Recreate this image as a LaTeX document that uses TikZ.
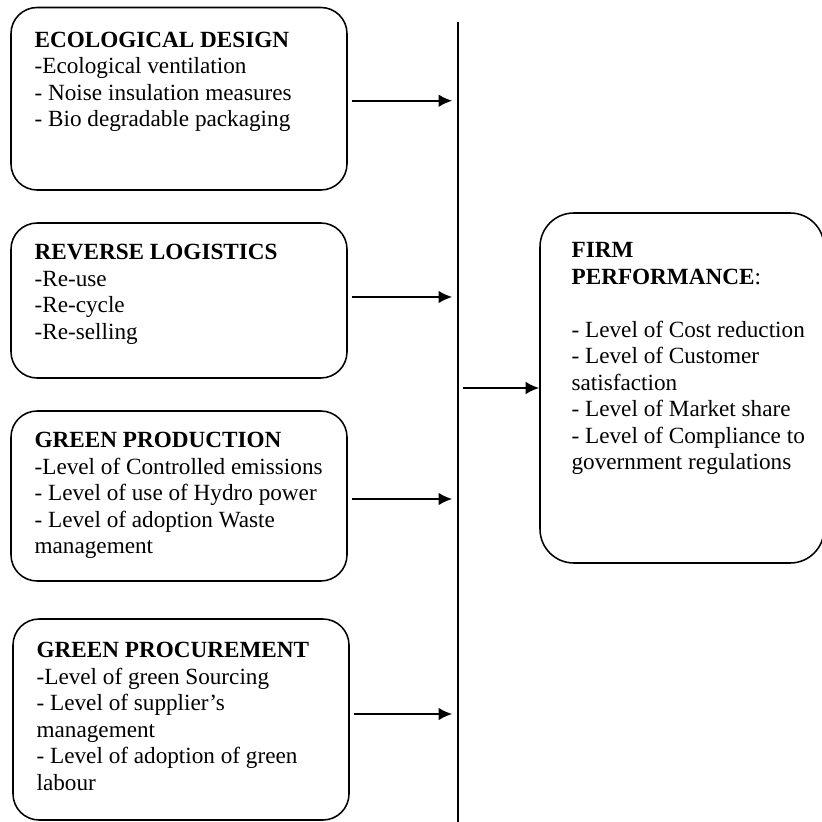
\documentclass[tikz,border=0pt]{standalone}
\usepackage{fontspec}
\setmainfont{Liberation Serif}
\usetikzlibrary{positioning,fit,arrows.meta}

\begin{document}
\begin{tikzpicture}[
  x=0.5173pt, y=-0.5173pt,
  factor/.style={draw, line width=0.8pt, rounded corners=13.5pt, inner sep=0pt},
  outcome/.style={factor, rounded corners=17.5pt},
  txt/.style={anchor=north west, inner sep=0pt, align=left, font=\fontsize{12}{13.7}\selectfont},
  flow/.style={-{Latex[length=7pt,width=6.5pt]}, line width=1pt}
]
\useasboundingbox (0,0) rectangle (822,822);

% the four green practices
\node[factor, fit={(11,7.5) (347,190)}] (eco) {};
\node[factor, fit={(11,223) (347,378)}] (rev) {};
\node[factor, fit={(11,411) (347,581)}] (prod) {};
\node[factor, fit={(13,619) (349,820)}] (proc) {};

\node[txt] (ecotxt) at ([shift={(24,25)}]eco.north west)
  {\textbf{ECOLOGICAL DESIGN}\\-Ecological ventilation\\- Noise insulation measures\\- Bio degradable packaging};
\node[txt] (revtxt) at ([shift={(24,22)}]rev.north west)
  {\textbf{REVERSE LOGISTICS}\\-Re-use\\-Re-cycle\\-Re-selling};
\node[txt] (prodtxt) at ([shift={(24,22)}]prod.north west)
  {\textbf{GREEN PRODUCTION}\\-Level of Controlled emissions\\- Level of use of Hydro power\\- Level of adoption Waste\\management};
\node[txt] (proctxt) at ([shift={(24,24)}]proc.north west)
  {\textbf{GREEN PROCUREMENT}\\-Level of green Sourcing\\- Level of supplier's\\management\\- Level of adoption of green\\labour};

% outcome
\node[outcome, fit={(540,213) (824,563)}] (firm) {};
\node[txt] (firmtxt) at ([shift={(32,30)}]firm.north west)
  {\textbf{FIRM}\\\textbf{PERFORMANCE}:\\[13.7pt]- Level of Cost reduction\\- Level of Customer\\satisfaction\\- Level of Market share\\- Level of Compliance to\\government regulations};

% collecting line
\coordinate (top) at (458,22);
\coordinate (bot) at (458,822);
\draw[line width=0.8pt] (top) -- (bot);

\foreach \b/\dy in {eco/2,rev/-3.5,prod/3,proc/-5.5}
  \draw[flow, shorten <=2pt, shorten >=3pt]
    ([shift={(0,\dy)}]\b.east) -- ([shift={(0,\dy)}]\b.east -| top);

\draw[flow, shorten <=2.6pt] (top |- firm.west) -- (firm.west);

\end{tikzpicture}
\end{document}
